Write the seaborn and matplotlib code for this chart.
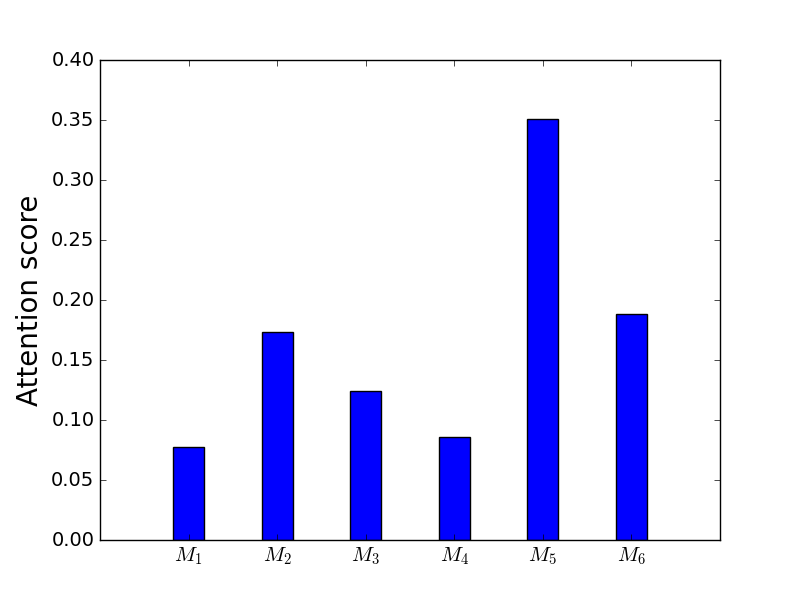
import matplotlib
matplotlib.use("Agg")
import matplotlib.pyplot as plt
import seaborn as sns
import pandas as pd

labels = [r"$M_1$", r"$M_2$", r"$M_3$", r"$M_4$", r"$M_5$", r"$M_6$"]
scores = [0.0775, 0.1733, 0.124, 0.0858, 0.3505, 0.188]
yticks = [0.0, 0.05, 0.10, 0.15, 0.20, 0.25, 0.30, 0.35, 0.40]
ytick_labels = ["0.00", "0.05", "0.10", "0.15", "0.20", "0.25", "0.30", "0.35", "0.40"]

plt.style.use("classic")
df = pd.DataFrame({"model": labels, "score": scores})

fig, ax = plt.subplots(figsize=(8, 6), dpi=100)
sns.barplot(data=df, x="model", y="score", color="blue", saturation=1,
            width=0.35, edgecolor="black", linewidth=1, ax=ax, errorbar=None)
ax.set_xlim(-1, 6)
ax.set_ylim(0, 0.40)
ax.set_yticks(yticks)
ax.set_yticklabels(ytick_labels, fontsize=14)
ax.tick_params(axis="x", labelsize=15)
ax.set_xlabel("")
ax.set_ylabel("Attention score", fontsize=20)
fig.subplots_adjust(left=0.125, right=0.9, bottom=0.1, top=0.9)
fig.savefig("out.png", dpi=100)
